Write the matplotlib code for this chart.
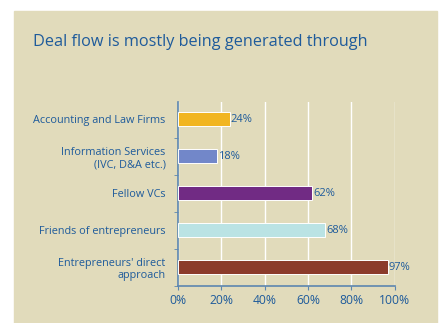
import numpy as np
import matplotlib.pyplot as plt

# deal flow sources, bottom to top
categories = ["Entrepreneurs' direct\napproach", "Friends of entrepreneurs",
              "Fellow VCs", "Information Services\n(IVC, D&A etc.)",
              "Accounting and Law Firms"]
values = [97, 68, 62, 18, 24]
colors = ["#8B3B2B", "#BAE3E4", "#712B84", "#7287C9", "#F1B520"]
xticks = [0, 20, 40, 60, 80, 100]

bg = "#E1DBBB"
txt = "#1E5B9B"
spine = "#5C86B0"

plt.rcParams['font.family'] = ['Open Sans', 'DejaVu Sans']

fig = plt.figure(figsize=(4.45, 3.23), dpi=100)
# beige panel behind the chart
fig.patches.append(plt.Rectangle((14 / 445, 0), 423 / 445, 1 - 11 / 323,
                                 transform=fig.transFigure, color=bg, zorder=-10))

ax = fig.add_axes([178 / 445, 1 - 285.7 / 323, 216.7 / 445, 183.7 / 323])
ax.patch.set_alpha(0)

y = np.arange(len(categories))
ax.barh(y, values, height=0.38, color=colors, edgecolor="white", linewidth=0.7, zorder=3)
for yi, v in zip(y, values):
    ax.text(v + 0.3, yi, f"{v}%", va="center", ha="left", fontsize=8, color=txt, zorder=4)

ax.set_xlim(0, 100)
ax.set_ylim(-0.5, 4.46)
ax.set_xticks(xticks)
ax.set_xticklabels([f"{t}%" for t in xticks], fontsize=8.7, color=txt)
ax.set_yticks(y)
ax.set_yticklabels(categories, fontsize=7.8, color=txt, linespacing=1.2)
ax.set_yticks(np.arange(-0.5, 4.5, 1), minor=True)
ax.tick_params(axis="y", which="major", length=0, pad=9)
ax.tick_params(axis="y", which="minor", length=3, color=spine, direction="out")
ax.tick_params(axis="x", length=3, color=spine, pad=3)
for lbl in ax.get_yticklabels():
    lbl.set_horizontalalignment("right")

ax.grid(axis="x", color="white", linewidth=1, zorder=1)
ax.set_axisbelow(True)
for s in ["top", "right"]:
    ax.spines[s].set_visible(False)
for s in ["left", "bottom"]:
    ax.spines[s].set_color(spine)
    ax.spines[s].set_linewidth(1.2)

fig.text(33 / 445, 1 - 46 / 323, "Deal flow is mostly being generated through",
         fontsize=11.7, color=txt, va="baseline", ha="left")

fig.savefig("out.png", dpi=100)
